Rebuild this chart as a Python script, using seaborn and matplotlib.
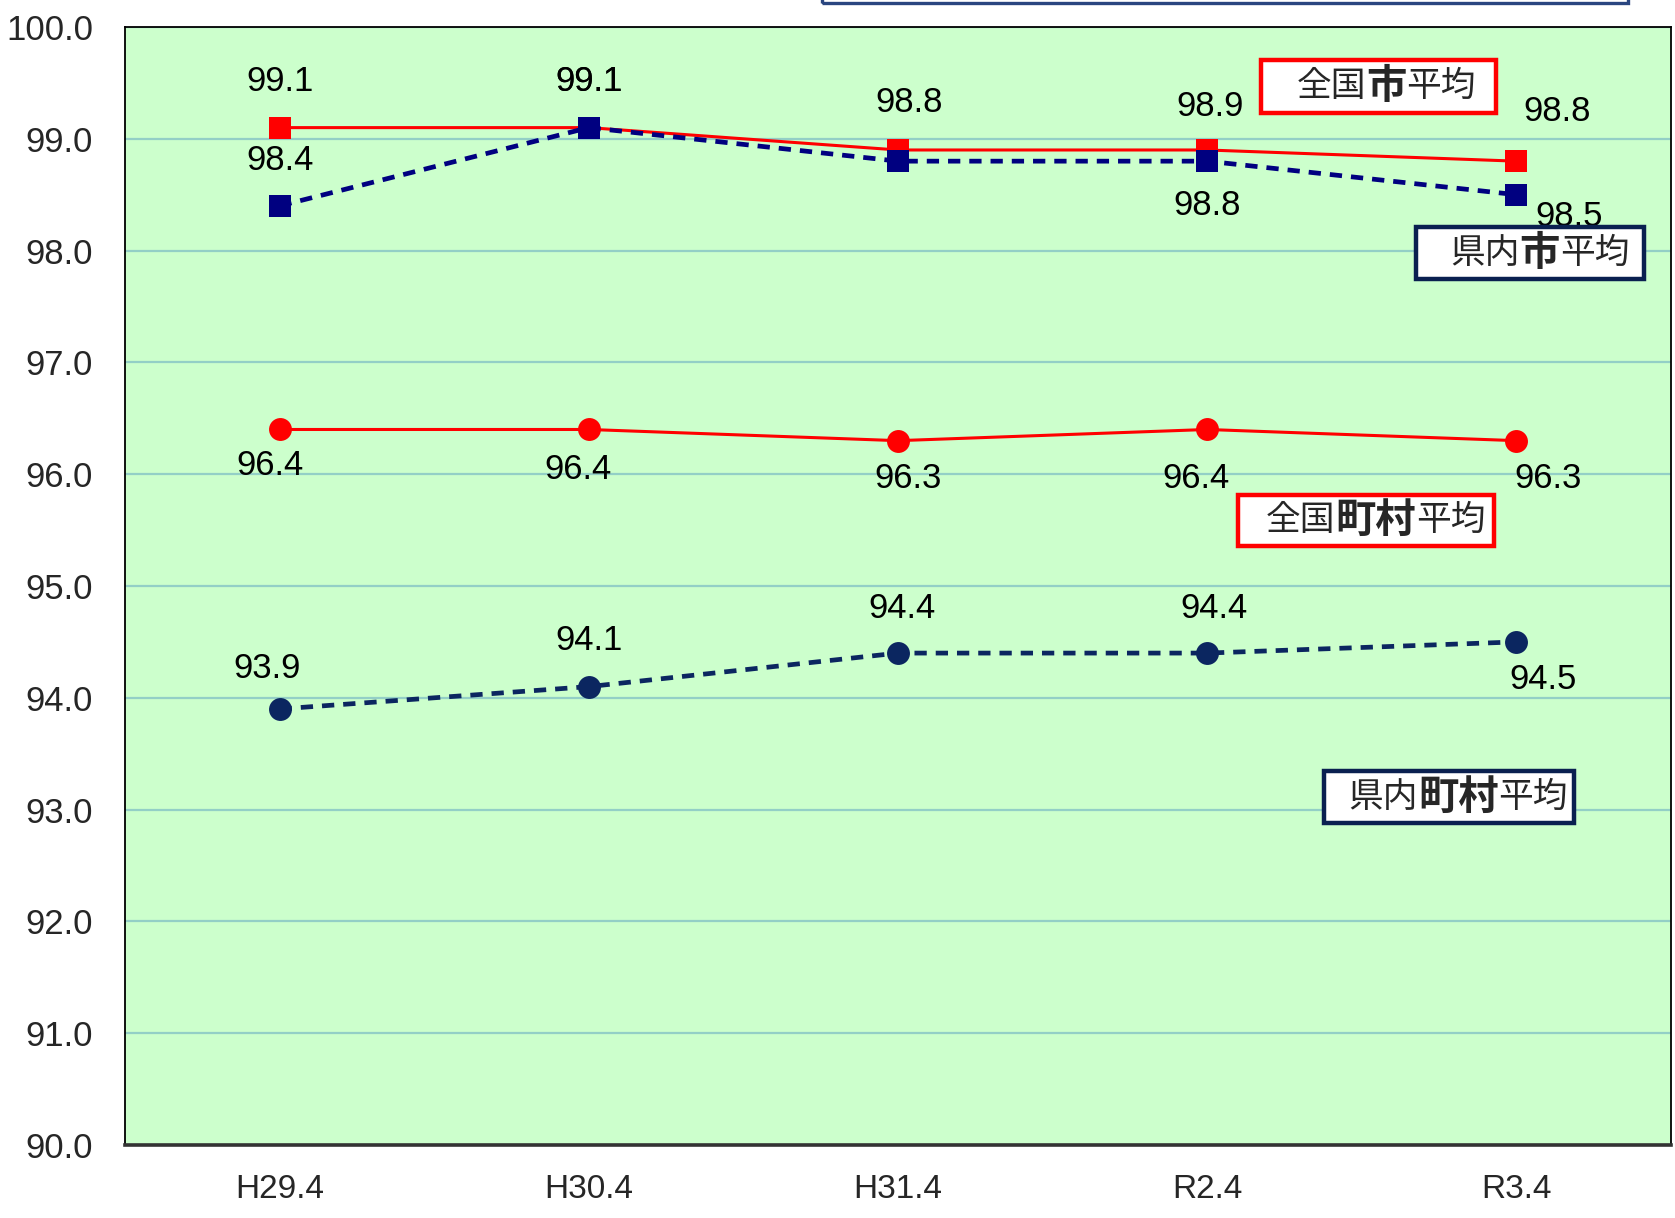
import matplotlib
matplotlib.use("Agg")
import matplotlib.pyplot as plt
import seaborn as sns
import pandas as pd
from matplotlib.patches import Rectangle

# === DONNÉES ===
periods = ["H29.4", "H30.4", "H31.4", "R2.4", "R3.4"]
nat_city = [99.1, 99.1, 98.9, 98.9, 98.8]        # 全国市平均
pref_city = [98.4, 99.1, 98.8, 98.8, 98.5]       # 県内市平均
nat_town = [96.4, 96.4, 96.3, 96.4, 96.3]        # 全国町村平均
pref_town = [93.9, 94.1, 94.4, 94.4, 94.5]       # 県内町村平均

nat_city_labels = ["99.1", "99.1", "", "98.9", "98.8"]
pref_city_labels = ["98.4", "99.1", "98.8", "98.8", "98.5"]
nat_town_labels = ["96.4", "96.4", "96.3", "96.4", "96.3"]
pref_town_labels = ["93.9", "94.1", "94.4", "94.4", "94.5"]
y_ticks = [90.0, 91.0, 92.0, 93.0, 94.0, 95.0, 96.0, 97.0, 98.0, 99.0, 100.0]

# label offsets in points (layout only)
off_nat_city = [(0, 33), (0, 33), (8, 34), (2, 31), (29, 36)]
off_pref_city = [(0, 33), (0, 33), (8, 42), (0, -32), (38, -16)]
off_nat_town = [(-7, -26), (-8, -29), (7, -27), (-8, -35), (23, -27)]
off_pref_town = [(-9, 29), (0, 33), (3, 32), (5, 32), (19, -27)]

RED = "#ff0000"
NAVY = "#000080"
DNAVY = "#0b2660"
NUM_FONT = ["Liberation Sans Narrow", "Liberation Sans", "DejaVu Sans"]
JP_FONT = ["Noto Sans CJK JP", "DejaVu Sans"]

sns.set_style("white")
plt.rcParams["font.family"] = NUM_FONT

df = pd.DataFrame({"period": periods, "nat_city": nat_city, "pref_city": pref_city,
                   "nat_town": nat_town, "pref_town": pref_town})

fig = plt.figure(figsize=(16.75, 12.18), dpi=100)
ax = fig.add_axes([125 / 1675, 1 - 1145 / 1218, 1546 / 1675, 1118 / 1218])
ax.set_facecolor("#ccffcc")

series = [
    ("nat_city", RED, "s", "-", 2.2, 16.5, nat_city_labels, off_nat_city),
    ("pref_city", NAVY, "s", "--", 3.4, 16.5, pref_city_labels, off_pref_city),
    ("nat_town", RED, "o", "-", 2.2, 16.5, nat_town_labels, off_nat_town),
    ("pref_town", DNAVY, "o", "--", 3.4, 16.5, pref_town_labels, off_pref_town),
]

for col, color, mk, ls, lw, ms, labels, offs in series:
    line_kws = dict(color=color, lw=lw, marker=mk, markersize=ms, markeredgewidth=0,
                    zorder=4)
    if ls == "--":
        line_kws["dashes"] = (2.6, 1.9)
    sns.lineplot(data=df, x="period", y=col, ax=ax, sort=False, **line_kws)
    for i, (val, txt) in enumerate(zip(df[col], labels)):
        if txt:
            ax.annotate(txt, (i, val), xytext=offs[i], textcoords="offset points",
                        ha="center", va="center", fontsize=25, color="black",
                        family=NUM_FONT, zorder=5)

ax.set_xlim(-0.5, len(periods) - 0.5)
ax.set_ylim(90, 100)
ax.set_yticks(y_ticks)
ax.set_yticklabels([f"{t:.1f}" for t in y_ticks], fontsize=25)
ax.set_xticks(range(len(periods)))
ax.set_xticklabels(periods, fontsize=24)
ax.set_xlabel("")
ax.set_ylabel("")
ax.tick_params(axis="y", length=0, pad=23)
ax.tick_params(axis="x", direction="inout", length=12, width=1, pad=15)
ax.yaxis.grid(True, color="#93cfc6", lw=1.6)
ax.set_axisbelow(True)
for s in ["left", "top", "right"]:
    ax.spines[s].set_color("black")
    ax.spines[s].set_linewidth(1.3)
ax.spines["bottom"].set_color("#333333")
ax.spines["bottom"].set_linewidth(2.6)

# === ENCADRÉS ===
boxes = [
    # (x0, y0, x1, y1, edge, text-left, parts)
    (3.174, 99.229, 3.934, 99.705, RED, 3.29,
     [("全国", "normal", 25), ("市", "bold", 29), ("平均", "normal", 25)]),
    (3.675, 97.743, 4.414, 98.21, "#0a2050", 3.785,
     [("県内", "normal", 25), ("市", "bold", 29), ("平均", "normal", 25)]),
    (3.101, 95.362, 3.927, 95.81, RED, 3.19,
     [("全国", "normal", 25), ("町村", "bold", 29), ("平均", "normal", 25)]),
    (3.378, 92.876, 4.186, 93.343, "#0a2050", 3.457,
     [("県内", "normal", 25), ("町村", "bold", 29), ("平均", "normal", 25)]),
]
for x0, y0, x1, y1, edge, tx, parts in boxes:
    ax.add_patch(Rectangle((x0, y0), x1 - x0, y1 - y0, facecolor="white",
                           edgecolor=edge, lw=3.2, zorder=6))
    prev = None
    for txt, wt, fs in parts:
        if prev is None:
            prev = ax.text(tx, (y0 + y1) / 2, txt, ha="left", va="center",
                           fontsize=fs, fontweight=wt, family=JP_FONT, zorder=7)
        else:
            prev = ax.annotate(txt, xy=(1, 0.5), xycoords=prev, ha="left",
                               va="center", fontsize=fs, fontweight=wt,
                               family=JP_FONT, zorder=7)

# boîte de titre coupée en haut
fig.patches.append(Rectangle((822 / 1675, 1 - 3 / 1218), 806 / 1675, 0.05,
                             transform=fig.transFigure, fill=False,
                             edgecolor="#2a4680", lw=2.4))

plt.savefig("out.png", dpi=100)
plt.close()
